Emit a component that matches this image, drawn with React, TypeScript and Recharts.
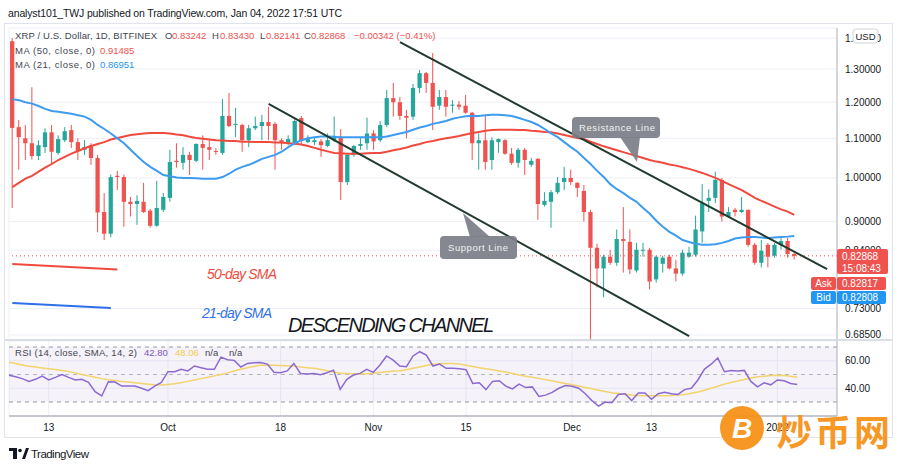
import React from 'react';
import {
  ComposedChart,
  Bar,
  Line,
  XAxis,
  YAxis,
  CartesianGrid,
  ReferenceLine,
  ReferenceArea,
} from 'recharts';

// XRP/USD daily, Bitfinex, Sep 7 2021 -> Jan 4 2022
const opens = [
  1.39, 1.13, 1.1, 1.087, 1.054, 1.077, 1.116, 1.062, 1.095, 1.122,
  1.09, 1.07, 1.082, 1.049, 0.921, 0.874, 1.005, 1.002, 0.944, 0.939,
  0.944, 0.924, 0.891, 0.926, 0.953, 1.042, 1.037, 1.057, 1.042, 1.085,
  1.077, 1.067, 1.062, 1.161, 1.136, 1.136, 1.095, 1.127, 1.133, 1.144,
  1.139, 1.095, 1.087, 1.087, 1.155, 1.09, 1.09, 1.092, 1.08, 1.095,
  1.103, 0.99, 1.057, 1.08, 1.087, 1.113, 1.095, 1.136, 1.212, 1.2,
  1.161, 1.159, 1.242, 1.287, 1.257, 1.19, 1.215, 1.19, 1.193, 1.19,
  1.17, 1.087, 1.095, 1.044, 1.09, 1.095, 1.06, 1.037, 1.07, 1.032,
  1.047, 0.937, 0.944, 0.966, 0.99, 1.0, 0.988, 0.969, 0.921, 0.845,
  0.804, 0.827, 0.815, 0.863, 0.857, 0.8, 0.839, 0.841, 0.783, 0.813,
  0.827, 0.804, 0.794, 0.827, 0.831, 0.879, 0.946, 0.953, 0.995, 0.911,
  0.926, 0.921, 0.926, 0.851, 0.815, 0.851, 0.829, 0.851, 0.859, 0.83242,
];
const highs = [
  1.4, 1.15, 1.136, 1.244, 1.095, 1.127, 1.136, 1.108, 1.13, 1.136,
  1.1, 1.095, 1.087, 1.057, 0.964, 1.008, 1.017, 1.008, 0.955, 0.959,
  0.988, 0.928, 0.993, 0.964, 1.07, 1.087, 1.077, 1.065, 1.087, 1.108,
  1.095, 1.075, 1.209, 1.227, 1.184, 1.139, 1.136, 1.159, 1.164, 1.187,
  1.144, 1.1, 1.108, 1.156, 1.161, 1.108, 1.103, 1.098, 1.113, 1.159,
  1.125, 1.062, 1.082, 1.103, 1.156, 1.122, 1.147, 1.236, 1.257, 1.215,
  1.178, 1.254, 1.297, 1.291, 1.351, 1.236, 1.236, 1.206, 1.203, 1.221,
  1.172, 1.113, 1.161, 1.103, 1.1, 1.098, 1.075, 1.075, 1.075, 1.049,
  1.049, 0.966, 0.971, 1.002, 1.027, 1.02, 0.99, 0.983, 0.926, 0.853,
  0.831, 0.841, 0.883, 0.932, 0.883, 0.855, 0.855, 0.845, 0.829, 0.829,
  0.831, 0.821, 0.841, 0.847, 0.913, 0.985, 0.973, 1.015, 1.0, 0.932,
  0.93, 0.955, 0.926, 0.855, 0.861, 0.855, 0.855, 0.865, 0.865, 0.8343,
];
const lows = [
  0.93, 1.02, 1.044, 1.045, 1.044, 1.062, 1.032, 1.057, 1.09, 1.075,
  1.044, 1.057, 1.032, 0.877, 0.861, 0.867, 0.971, 0.889, 0.911, 0.893,
  0.919, 0.887, 0.889, 0.921, 0.944, 1.025, 1.02, 1.007, 1.039, 1.02,
  1.044, 1.057, 1.057, 1.13, 1.103, 1.065, 1.077, 1.122, 1.095, 1.095,
  1.02, 1.07, 1.082, 1.082, 1.082, 1.087, 1.082, 1.052, 1.077, 1.09,
  0.948, 0.983, 1.052, 1.07, 1.07, 1.07, 1.09, 1.13, 1.159, 1.15,
  1.1, 1.15, 1.227, 1.227, 1.122, 1.178, 1.159, 1.17, 1.178, 1.167,
  1.044, 1.02, 1.02, 1.02, 1.062, 1.057, 1.032, 1.025, 1.007, 1.027,
  0.904, 0.933, 0.887, 0.962, 0.971, 0.983, 0.955, 0.9, 0.6, 0.768,
  0.75, 0.811, 0.809, 0.796, 0.793, 0.796, 0.827, 0.764, 0.777, 0.796,
  0.802, 0.779, 0.79, 0.825, 0.827, 0.855, 0.921, 0.941, 0.9, 0.911,
  0.911, 0.919, 0.847, 0.811, 0.806, 0.806, 0.825, 0.841, 0.825, 0.82141,
];
const closes = [
  1.128, 1.103, 1.087, 1.054, 1.082, 1.116, 1.065, 1.098, 1.119, 1.09,
  1.067, 1.077, 1.049, 0.92, 0.874, 1.002, 1.002, 0.944, 0.939, 0.946,
  0.921, 0.891, 0.93, 0.955, 1.039, 1.039, 1.057, 1.044, 1.085, 1.075,
  1.07, 1.065, 1.161, 1.133, 1.139, 1.095, 1.127, 1.133, 1.144, 1.133,
  1.095, 1.087, 1.098, 1.147, 1.095, 1.098, 1.095, 1.082, 1.095, 1.103,
  0.99, 1.057, 1.08, 1.085, 1.113, 1.092, 1.136, 1.212, 1.2, 1.161,
  1.156, 1.242, 1.287, 1.257, 1.187, 1.215, 1.187, 1.193, 1.187, 1.17,
  1.087, 1.095, 1.039, 1.095, 1.098, 1.06, 1.037, 1.07, 1.044, 1.042,
  0.939, 0.946, 0.966, 0.988, 1.0, 0.99, 0.976, 0.921, 0.845, 0.804,
  0.827, 0.815, 0.863, 0.859, 0.802, 0.841, 0.841, 0.779, 0.827, 0.825,
  0.804, 0.794, 0.835, 0.835, 0.883, 0.941, 0.953, 0.995, 0.911, 0.921,
  0.921, 0.926, 0.851, 0.815, 0.839, 0.827, 0.851, 0.859, 0.8324, 0.82868,
];
const ma50 = [
  0.978, 0.988, 0.998, 1.005, 1.015, 1.025, 1.034, 1.044, 1.052, 1.06,
  1.067, 1.074, 1.08, 1.085, 1.09, 1.097, 1.101, 1.105, 1.109, 1.111,
  1.113, 1.114, 1.114, 1.114, 1.113, 1.11, 1.108, 1.104, 1.101, 1.099,
  1.097, 1.095, 1.094, 1.093, 1.093, 1.091, 1.091, 1.09, 1.09, 1.09,
  1.089, 1.089, 1.087, 1.086, 1.084, 1.08, 1.075, 1.07, 1.066, 1.062,
  1.061, 1.06, 1.06, 1.06, 1.061, 1.062, 1.062, 1.065, 1.069, 1.072,
  1.076, 1.081, 1.085, 1.09, 1.093, 1.097, 1.1, 1.103, 1.106, 1.11,
  1.114, 1.117, 1.12, 1.122, 1.123, 1.123, 1.123, 1.122, 1.122, 1.12,
  1.119, 1.117, 1.116, 1.113, 1.109, 1.105, 1.101, 1.098, 1.091, 1.085,
  1.079, 1.074, 1.069, 1.064, 1.059, 1.054, 1.049, 1.044, 1.04, 1.037,
  1.033, 1.03, 1.026, 1.022, 1.017, 1.012, 1.006, 1.0, 0.993, 0.985,
  0.978, 0.971, 0.962, 0.953, 0.946, 0.94, 0.933, 0.927, 0.922, 0.91485,
];
const ma21 = [
  1.209, 1.206, 1.2, 1.196, 1.189, 1.181, 1.175, 1.173, 1.17, 1.167,
  1.163, 1.159, 1.15, 1.136, 1.125, 1.113, 1.1, 1.087, 1.07, 1.054,
  1.039, 1.027, 1.017, 1.007, 1.004, 1.001, 1.0, 1.0, 0.999, 0.998,
  0.998, 0.998, 1.002, 1.01, 1.02, 1.027, 1.032, 1.039, 1.047, 1.052,
  1.057, 1.065, 1.077, 1.087, 1.095, 1.1, 1.103, 1.105, 1.105, 1.104,
  1.103, 1.103, 1.103, 1.103, 1.103, 1.103, 1.103, 1.105, 1.109, 1.113,
  1.117, 1.123, 1.129, 1.133, 1.139, 1.143, 1.147, 1.153, 1.157, 1.16,
  1.161, 1.161, 1.163, 1.164, 1.164, 1.163, 1.161, 1.156, 1.15, 1.144,
  1.136, 1.125, 1.113, 1.103, 1.09, 1.077, 1.065, 1.049, 1.034, 1.017,
  1.002, 0.985, 0.973, 0.964, 0.953, 0.944, 0.93, 0.917, 0.902, 0.889,
  0.878, 0.87, 0.861, 0.857, 0.853, 0.851, 0.851, 0.852, 0.855, 0.859,
  0.864, 0.866, 0.867, 0.867, 0.866, 0.865, 0.866, 0.867, 0.868, 0.86951,
];
const rsi = [
  49.5, 48.4, 47.0, 45.0, 46.5, 48.9, 46.0, 47.9, 50.0, 47.9,
  46.0, 46.5, 44.3, 37.5, 34.4, 44.8, 44.5, 41.6, 41.6, 41.6,
  40.0, 38.3, 41.6, 44.3, 52.1, 52.1, 53.8, 52.6, 56.2, 55.0,
  53.8, 53.8, 62.7, 60.8, 60.3, 55.5, 58.1, 58.6, 58.8, 57.6,
  51.6, 51.3, 52.6, 58.1, 50.8, 50.3, 50.8, 49.8, 51.3, 53.2,
  39.2, 46.5, 49.6, 50.8, 53.8, 51.6, 56.9, 63.5, 60.5, 56.2,
  55.7, 63.5, 66.6, 64.2, 56.2, 57.6, 54.5, 54.5, 54.2, 53.5,
  43.5, 44.0, 39.0, 45.0, 45.5, 41.5, 39.5, 43.0, 40.5, 41.0,
  34.0, 35.0, 37.0, 40.0, 42.0, 41.5, 40.0, 36.0, 31.0, 27.0,
  30.0, 29.5, 35.5, 36.0, 31.0, 36.5, 36.5, 32.0, 36.0, 37.0,
  36.0, 35.5, 39.0, 40.0, 46.0, 54.0, 57.5, 62.0, 52.0, 53.0,
  52.5, 53.0, 45.0, 41.0, 44.0, 42.5, 46.0, 45.5, 43.5, 42.8,
];
const rsiMa = [
  59.0, 58.0, 57.0, 56.0, 55.5, 54.8, 54.2, 53.6, 53.0, 52.2,
  51.2, 50.0, 49.0, 48.0, 47.0, 46.2, 45.6, 45.0, 44.5, 44.0,
  43.5, 43.0, 42.5, 42.4, 42.8, 43.3, 44.0, 45.0, 46.0, 47.0,
  48.0, 49.0, 50.0, 51.2, 52.5, 53.8, 55.0, 56.0, 56.8, 57.0,
  56.8, 56.6, 56.4, 56.2, 55.5, 55.0, 54.5, 53.8, 52.8, 51.8,
  51.0, 50.8, 50.5, 50.3, 50.5, 51.0, 51.5, 52.0, 52.5, 52.8,
  53.5, 54.5, 55.5, 56.5, 57.5, 57.8, 58.0, 58.0, 57.6, 56.8,
  55.8, 55.0, 54.2, 53.4, 52.6, 51.8, 50.8, 49.6, 48.8, 48.0,
  47.2, 46.2, 45.4, 44.4, 43.5, 42.5, 41.6, 40.6, 39.6, 38.6,
  37.6, 36.8, 36.2, 35.6, 35.1, 34.8, 34.6, 34.5, 34.5, 34.6,
  34.8, 35.0, 35.5, 36.3, 37.3, 38.5, 40.0, 41.5, 43.0, 44.2,
  45.3, 46.4, 47.5, 48.3, 48.8, 49.2, 49.4, 49.2, 48.7, 48.06,
];

const timeTickIdx = [6, 24, 41, 55, 69, 85, 97, 116];
const timeTickLabels = ['13', 'Oct', '18', 'Nov', '15', 'Dec', '13', '2022'];
const priceTicks = [0.685, 0.73, 0.84, 0.9, 1.0, 1.1, 1.2, 1.3, 1.4];
const rsiTicks = [40, 60];

// analyst drawings, in (day index, price)
const resistanceLine = [{ x: 59, y: 1.387 }, { x: 124, y: 0.8025 }];
const supportLine = [{ x: 39, y: 1.195 }, { x: 103, y: 0.683 }];
const sma50Key = [{ x: 0, y: 0.8126 }, { x: 16, y: 0.802 }];
const sma21Key = [{ x: 0, y: 0.7397 }, { x: 15, y: 0.7309 }];

const SLOTS = 126; // empty days on the right, like TradingView's offset
const UP = '#26a69a';
const DOWN = '#ef5350';
const FONT = '"Liberation Sans", Arial, sans-serif';

const rows = Array.from({ length: SLOTS }, (_, i) =>
  i < opens.length
    ? {
        i,
        o: opens[i],
        h: highs[i],
        l: lows[i],
        c: closes[i],
        range: [lows[i], highs[i]],
        ma50: ma50[i],
        ma21: ma21[i],
        rsi: rsi[i],
        rsiMa: rsiMa[i],
      }
    : { i }
);

const Candle = (props: any) => {
  const { x, y, width, height, payload } = props;
  if (!payload || payload.o == null) return null;
  const top = Math.min(y, y + height);
  const bottom = Math.max(y, y + height);
  const lh = Math.log(payload.h);
  const ll = Math.log(payload.l);
  // log axis, so open/close sit linearly in log space between high and low
  const toY = (v: number) => (lh === ll ? top : top + ((bottom - top) * (lh - Math.log(v))) / (lh - ll));
  const color = payload.c >= payload.o ? UP : DOWN;
  const cx = x + width / 2;
  const bw = Math.max(1, width * 0.85);
  const yo = toY(payload.o);
  const yc = toY(payload.c);
  return (
    <g>
      <line x1={cx} x2={cx} y1={top} y2={bottom} stroke={color} strokeWidth={1} />
      <rect x={cx - bw / 2} y={Math.min(yo, yc)} width={bw} height={Math.max(1, Math.abs(yo - yc))} fill={color} />
    </g>
  );
};

const axisTick = { fontSize: 10, fill: '#131722', fontFamily: FONT };

const App: React.FC = () => {
  return (
    <div style={{ position: 'absolute', left: 0, top: 0, width: 900, height: 469, background: '#fff', overflow: 'hidden' }}>
      <div style={{ position: 'absolute', left: 0, top: 0 }}>
        <ComposedChart width={900} height={342} data={rows} margin={{ top: 28, right: 0, bottom: 1, left: 9 }}>
          <CartesianGrid stroke="#edf0f6" />
          <XAxis dataKey="i" ticks={timeTickIdx} interval={0} tick={false} tickLine={false} axisLine={false} height={1} />
          <YAxis
            orientation="right"
            scale="log"
            domain={[0.6766, 1.435]}
            allowDataOverflow
            ticks={priceTicks}
            interval={0}
            width={63}
            tickFormatter={(v: number) => v.toFixed(5)}
            tickLine={false}
            axisLine={{ stroke: '#b2b5be' }}
            tick={axisTick}
          />
          <ReferenceLine y={0.82868} stroke={DOWN} strokeDasharray="1 3" />
          <Bar dataKey="range" shape={(p: any) => <Candle {...p} />} isAnimationActive={false} />
          <Line dataKey="ma50" type="linear" stroke="#f04a3e" strokeWidth={2} dot={false} isAnimationActive={false} />
          <Line dataKey="ma21" type="linear" stroke="#3d9bf0" strokeWidth={2} dot={false} isAnimationActive={false} />
          <ReferenceLine segment={resistanceLine} stroke="#213a2e" strokeWidth={2} ifOverflow="visible" />
          <ReferenceLine segment={supportLine} stroke="#213a2e" strokeWidth={2} ifOverflow="visible" />
          <ReferenceLine segment={sma50Key} stroke="#f04a3e" strokeWidth={2} ifOverflow="visible" />
          <ReferenceLine segment={sma21Key} stroke="#2f6fe8" strokeWidth={2} ifOverflow="visible" />
        </ComposedChart>
      </div>

      <div style={{ position: 'absolute', left: 0, top: 340 }}>
        <ComposedChart width={900} height={96} data={rows} margin={{ top: 1, right: 0, bottom: 0, left: 9 }}>
          <CartesianGrid stroke="#edf0f6" />
          <ReferenceArea y1={30} y2={70} fill="#7e57c2" fillOpacity={0.08} ifOverflow="visible" />
          <ReferenceLine y={70} stroke="#9598a1" strokeDasharray="4 4" />
          <ReferenceLine y={50} stroke="#b2b5be" strokeDasharray="4 4" />
          <ReferenceLine y={30} stroke="#9598a1" strokeDasharray="4 4" />
          <XAxis
            dataKey="i"
            ticks={timeTickIdx}
            interval={0}
            tickFormatter={(v: number) => timeTickLabels[timeTickIdx.indexOf(v)] ?? ''}
            tickLine={false}
            axisLine={{ stroke: '#9598a1' }}
            tick={axisTick}
            height={20}
          />
          <YAxis
            orientation="right"
            domain={[19.8, 74.4]}
            allowDataOverflow
            ticks={rsiTicks}
            interval={0}
            width={63}
            tickFormatter={(v: number) => v.toFixed(2)}
            tickLine={false}
            axisLine={{ stroke: '#b2b5be' }}
            tick={axisTick}
          />
          <Line dataKey="rsiMa" type="linear" stroke="#f3d36b" strokeWidth={1.5} dot={false} isAnimationActive={false} />
          <Line dataKey="rsi" type="linear" stroke="#8c6ad0" strokeWidth={1.5} dot={false} isAnimationActive={false} />
        </ComposedChart>
      </div>

      <svg width={900} height={469} style={{ position: 'absolute', left: 0, top: 0, pointerEvents: 'none' }} fontFamily={FONT}>
        <rect x={4.5} y={23.5} width={888} height={414} fill="none" stroke="#e0e3eb" />
        <line x1={5} x2={892} y1={340} y2={340} stroke="#d1d4dc" strokeWidth={1.5} />

        <text x={8} y={17} fontSize={10.5} fill="#131722" textLength={334}>
          analyst101_TWJ published on TradingView.com, Jan 04, 2022 17:51 UTC
        </text>

        <g fontSize={9.5}>
          <text x={15} y={38.5} fill="#434651" textLength={142}>XRP / U.S. Dollar, 1D, BITFINEX</text>
          <text x={165} y={38.5} fill="#434651">O</text>
          <text x={172} y={38.5} fill={DOWN}>0.83242</text>
          <text x={212} y={38.5} fill="#434651">H</text>
          <text x={220} y={38.5} fill={DOWN}>0.83430</text>
          <text x={260} y={38.5} fill="#434651">L</text>
          <text x={266} y={38.5} fill={DOWN}>0.82141</text>
          <text x={304} y={38.5} fill="#434651">C</text>
          <text x={311} y={38.5} fill={DOWN}>0.82868</text>
          <text x={354} y={38.5} fill={DOWN}>−0.00342 (−0.41%)</text>
          <text x={15} y={53.5} fill="#434651" textLength={80}>MA (50, close, 0)</text>
          <text x={100} y={53.5} fill={DOWN}>0.91485</text>
          <text x={15} y={67.5} fill="#434651" textLength={80}>MA (21, close, 0)</text>
          <text x={100} y={67.5} fill="#2196f3">0.86951</text>

          <text x={15} y={355.5} fill="#434651" textLength={122}>RSI (14, close, SMA, 14, 2)</text>
          <text x={144} y={355.5} fill="#7e57c2">42.80</text>
          <text x={175} y={355.5} fill="#f0cf4a">48.06</text>
          <text x={205} y={355.5} fill="#434651">n/a</text>
          <text x={229} y={355.5} fill="#434651">n/a</text>
        </g>

        <text x={207} y={279} fontSize={14} fontStyle="italic" fill="#f04a3e" textLength={70}>50-day SMA</text>
        <text x={202} y={318} fontSize={14} fontStyle="italic" fill="#2f6fe8" textLength={70}>21-day SMA</text>
        <text x={288} y={332} fontSize={20} fontStyle="italic" fill="#131722" textLength={206}>DESCENDING CHANNEL</text>

        <g fill="#7b7e88" fillOpacity={0.92}>
          <rect x={572} y={117} width={88} height={21} rx={4} />
          <polygon points="620,137 640,137 637,162" />
          <rect x={440} y={236} width={77} height={23} rx={4} />
          <polygon points="463,213 470,237 490,237" />
        </g>
        <text x={579} y={131} fontSize={9.5} fill="#f2f2f2" textLength={76}>Resistance Line</text>
        <text x={448} y={251} fontSize={9.5} fill="#f2f2f2" textLength={60}>Support Line</text>

        <rect x={853} y={29} width={25} height={14} rx={3} fill="#fff" stroke="#d1d4dc" />
        <text x={865.5} y={39.5} fontSize={9.5} fill="#131722" textAnchor="middle">USD</text>

        <rect x={837} y={249} width={51} height={25} rx={2} fill={DOWN} />
        <text x={842} y={260} fontSize={10} fill="#fff">0.82868</text>
        <text x={842} y={271.5} fontSize={10} fill="#fff">15:08:43</text>
        <rect x={811} y={277} width={25} height={13} rx={2} fill={DOWN} />
        <text x={823.5} y={287} fontSize={10} fill="#fff" textAnchor="middle">Ask</text>
        <rect x={837} y={277} width={49} height={13} rx={2} fill={DOWN} />
        <text x={842} y={287} fontSize={10} fill="#fff">0.82817</text>
        <rect x={811} y={291} width={25} height={13} rx={2} fill="#2196f3" />
        <text x={823.5} y={301} fontSize={10} fill="#fff" textAnchor="middle">Bid</text>
        <rect x={837} y={291} width={49} height={13} rx={2} fill="#2196f3" />
        <text x={842} y={301} fontSize={10} fill="#fff">0.82808</text>

        <g fill="#131722">
          <rect x={9} y={448} width={8} height={3} />
          <rect x={13} y={448} width={4} height={11} />
          <circle cx={20} cy={450.5} r={1.8} />
          <polygon points="22,459 26,448 29,448 25,459" />
          <text x={31} y={458} fontSize={11.5} textLength={58}>TradingView</text>
        </g>

        <g opacity={0.95}>
          <circle cx={742} cy={428} r={22} fill="#f7931a" />
          <text x={742} y={438} fontSize={28} fontWeight="bold" fontStyle="italic" fill="#fff" textAnchor="middle">B</text>
          <text x={776} y={446} fontSize={36} fontWeight="bold" fill="#f7931a" fontFamily='"Noto Sans CJK SC", sans-serif' textLength={114}>炒币网</text>
        </g>
      </svg>
    </div>
  );
};

export default App;
